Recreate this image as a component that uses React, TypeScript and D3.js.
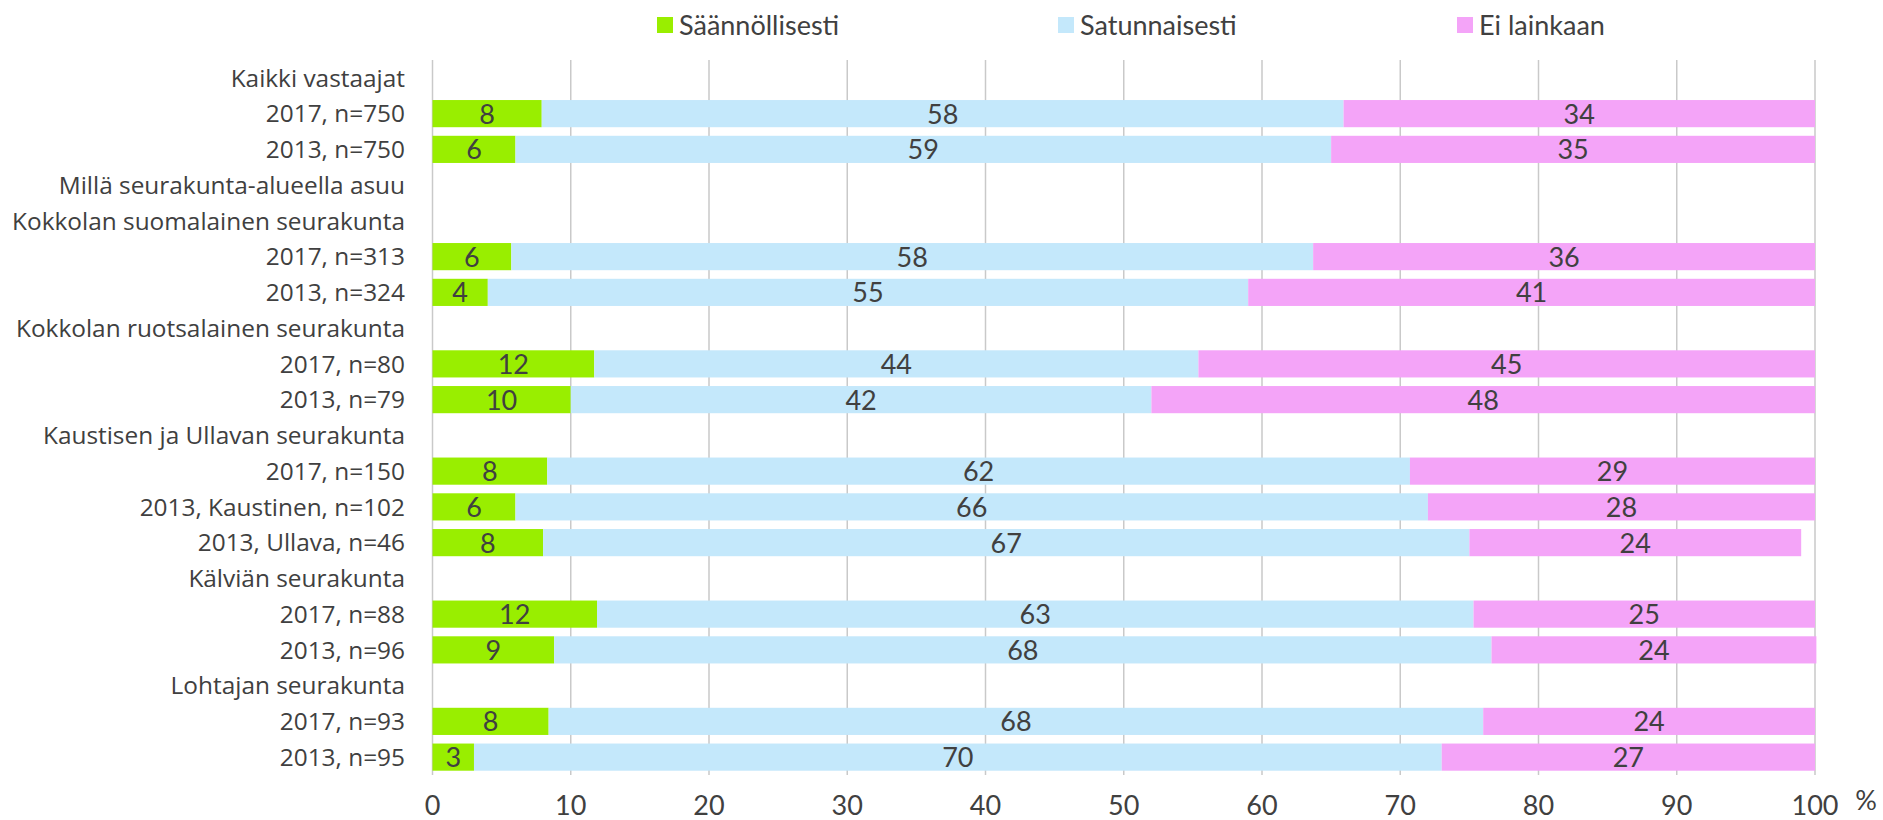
import React, { useRef, useEffect } from 'react';
import * as d3 from 'd3';

// Row labels (headers have no data)
const rowLabels = [
  'Kaikki vastaajat',
  '2017, n=750',
  '2013, n=750',
  'Millä seurakunta-alueella asuu',
  'Kokkolan suomalainen seurakunta',
  '2017, n=313',
  '2013, n=324',
  'Kokkolan ruotsalainen seurakunta',
  '2017, n=80',
  '2013, n=79',
  'Kaustisen ja Ullavan seurakunta',
  '2017, n=150',
  '2013, Kaustinen, n=102',
  '2013, Ullava, n=46',
  'Kälviän seurakunta',
  '2017, n=88',
  '2013, n=96',
  'Lohtajan seurakunta',
  '2017, n=93',
  '2013, n=95',
];

const saannollisesti = [null, 7.9, 6.0, null, null, 5.7, 4.0, null, 11.7, 10.0, null, 8.3, 6.0, 8.0, null, 11.9, 8.8, null, 8.4, 3.0];
const satunnaisesti = [null, 58.0, 59.0, null, null, 58.0, 55.0, null, 43.7, 42.0, null, 62.4, 66.0, 67.0, null, 63.4, 67.8, null, 67.6, 70.0];
const eiLainkaan = [null, 34.1, 35.0, null, null, 36.3, 41.0, null, 44.6, 48.0, null, 29.3, 28.0, 24.0, null, 24.7, 23.5, null, 24.0, 27.0];

const seriesNames = ['Säännöllisesti', 'Satunnaisesti', 'Ei lainkaan'];
const seriesColors = ['#99ee00', '#c4e8fb', '#f4a4f8'];
const xTicks = [0, 10, 20, 30, 40, 50, 60, 70, 80, 90, 100];

const W = 1883;
const H = 820;

const App = () => {
  const svgRef = useRef<SVGSVGElement>(null);

  useEffect(() => {
    const svg = d3.select(svgRef.current);
    svg.selectAll('*').remove();

    const textColor = '#404040';
    const labelFont = '"Open Sans", sans-serif';
    const numFont = 'Lato, sans-serif';

    const x = d3.scaleLinear().domain([0, 100]).range([432.5, 1815]);
    const y = d3.scaleBand<number>()
      .domain(d3.range(rowLabels.length))
      .range([60, 775])
      .paddingInner(0.24)
      .paddingOuter(0.12);

    // Gridlines
    svg.append('g')
      .selectAll('line')
      .data(xTicks)
      .join('line')
      .attr('x1', d => x(d))
      .attr('x2', d => x(d))
      .attr('y1', 60)
      .attr('y2', 775)
      .attr('stroke', '#c9c9c9')
      .attr('stroke-width', 1.5);

    // Stack the series
    const rows = rowLabels.map((label, i) => ({
      i,
      s0: saannollisesti[i],
      s1: satunnaisesti[i],
      s2: eiLainkaan[i],
    })).filter(r => r.s0 != null);

    const stack = d3.stack<any>().keys(['s0', 's1', 's2']);
    const stacked = stack(rows);

    stacked.forEach((layer, k) => {
      const g = svg.append('g');
      g.selectAll('rect')
        .data(layer)
        .join('rect')
        .attr('x', d => x(d[0]))
        .attr('width', d => x(d[1]) - x(d[0]))
        .attr('y', d => y(d.data.i)!)
        .attr('height', y.bandwidth())
        .attr('fill', seriesColors[k]);

      g.selectAll('text')
        .data(layer)
        .join('text')
        .attr('x', d => (x(d[0]) + x(d[1])) / 2)
        .attr('y', d => y(d.data.i)! + y.bandwidth() / 2)
        .attr('dy', '0.37em')
        .attr('text-anchor', 'middle')
        .attr('font-family', numFont)
        .attr('font-size', 27)
        .attr('fill', textColor)
        .text(d => Math.round(d[1] - d[0]));
    });

    // Row labels
    svg.append('g')
      .selectAll('text')
      .data(rowLabels)
      .join('text')
      .attr('x', 405)
      .attr('y', (d, i) => y(i)! + y.bandwidth() / 2)
      .attr('dy', '0.36em')
      .attr('text-anchor', 'end')
      .attr('font-family', labelFont)
      .attr('font-size', 24.4)
      .attr('fill', textColor)
      .text(d => d);

    // X axis tick labels
    svg.append('g')
      .selectAll('text')
      .data(xTicks)
      .join('text')
      .attr('x', d => x(d))
      .attr('y', 805)
      .attr('dy', '0.37em')
      .attr('text-anchor', 'middle')
      .attr('font-family', numFont)
      .attr('font-size', 27)
      .attr('fill', textColor)
      .text(d => d);

    svg.append('text')
      .attr('x', 1866)
      .attr('y', 800)
      .attr('dy', '0.37em')
      .attr('text-anchor', 'middle')
      .attr('font-family', numFont)
      .attr('font-size', 27)
      .attr('fill', textColor)
      .text('%');

    // Legend
    const legendX = [657, 1058, 1457];
    const legend = svg.append('g')
      .selectAll('g')
      .data(seriesNames)
      .join('g')
      .attr('transform', (d, i) => `translate(${legendX[i]},25)`);

    legend.append('rect')
      .attr('x', 0)
      .attr('y', -8)
      .attr('width', 16)
      .attr('height', 16)
      .attr('fill', (d, i) => seriesColors[i]);

    legend.append('text')
      .attr('x', 22)
      .attr('y', 0)
      .attr('dy', '0.37em')
      .attr('font-family', numFont)
      .attr('font-size', 27)
      .attr('fill', textColor)
      .text(d => d);
  }, []);

  return (
    <svg
      ref={svgRef}
      width={W}
      height={H}
      style={{ position: 'absolute', left: 0, top: 0, display: 'block', background: '#fff' }}
    />
  );
};

export default App;
